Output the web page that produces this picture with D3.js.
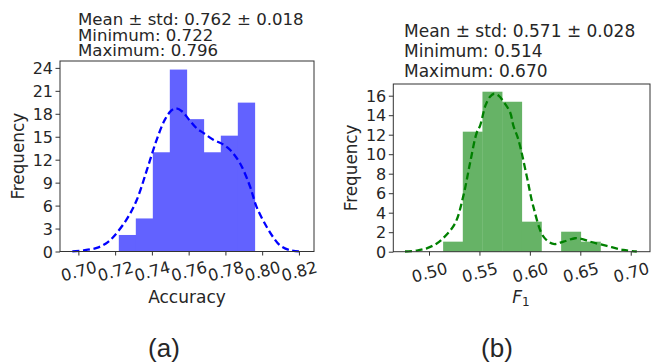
<!DOCTYPE html>
<html>
<head>
<meta charset="utf-8">
<script src="https://cdn.jsdelivr.net/npm/d3@7"></script>
<style>
  html, body { margin: 0; padding: 0; background: #fff; }
  svg { display: block; }
  text { font-family: "DejaVu Sans", sans-serif; fill: #262626; }
</style>
</head>
<body>
<svg id="chart" width="651" height="363"></svg>
<script>
// ---------- Data ----------
// Panel (a): Accuracy
const accBinEdges = [0.722, 0.73125, 0.7405, 0.74975, 0.759, 0.76825, 0.7775, 0.78675, 0.796];
const accDensity  = [2.16, 4.32, 12.97, 23.78, 17.30, 12.97, 15.14, 19.46];
const accKdeX = [0.6967, 0.703, 0.710, 0.715, 0.719, 0.726, 0.7317, 0.7372, 0.7426, 0.747, 0.7505, 0.753, 0.7565, 0.760, 0.7644, 0.768, 0.7734, 0.778, 0.7825, 0.788, 0.7934, 0.797, 0.8025, 0.8065, 0.8097, 0.815, 0.820];
const accKdeY = [0.02, 0.15, 0.47, 1.05, 1.9, 4.1, 6.7, 10.6, 14.6, 17.2, 18.4, 18.7, 18.3, 17.3, 16.1, 15.5, 14.6, 14.1, 13.3, 11.5, 8.5, 5.8, 3.2, 1.7, 0.8, 0.17, 0.02];
const accXTicks = [0.70, 0.72, 0.74, 0.76, 0.78, 0.80, 0.82];
const accYTicks = [0, 3, 6, 9, 12, 15, 18, 21, 24];
const accTitle = ["Mean \u00b1 std: 0.762 \u00b1 0.018", "Minimum: 0.722", "Maximum: 0.796"];

// Panel (b): F1
const f1BinEdges = [0.514, 0.5335, 0.553, 0.5725, 0.592, 0.6115, 0.631, 0.6505, 0.670];
const f1Density  = [1.03, 12.31, 16.41, 15.38, 3.08, 0, 2.05, 1.03];
const f1KdeX = [0.4762, 0.488, 0.4977, 0.507, 0.514, 0.5258, 0.534, 0.5407, 0.5473, 0.5506, 0.556, 0.5605, 0.5645, 0.569, 0.5745, 0.5804, 0.5837, 0.5886, 0.597, 0.6035, 0.6135, 0.6233, 0.6333, 0.6448, 0.652, 0.6597, 0.6763, 0.6927, 0.706];
const f1KdeY = [0.02, 0.12, 0.35, 0.8, 1.38, 2.9, 5.7, 9.1, 12.2, 12.9, 15.0, 15.9, 16.2, 16.0, 15.3, 14.3, 12.9, 11.5, 7.7, 4.6, 1.55, 0.8, 1.03, 1.38, 1.3, 1.03, 0.59, 0.18, 0.02];
const f1XTicks = [0.50, 0.55, 0.60, 0.65, 0.70];
const f1YTicks = [0, 2, 4, 6, 8, 10, 12, 14, 16];
const f1Title = ["Mean \u00b1 std: 0.571 \u00b1 0.028", "Minimum: 0.514", "Maximum: 0.670"];

// ---------- Drawing ----------
const svg = d3.select("#chart");

function panel(cfg) {
  const x = d3.scaleLinear().domain(cfg.xDomain).range([cfg.left, cfg.right]);
  const y = d3.scaleLinear().domain(cfg.yDomain).range([cfg.bottom, cfg.top]);
  const g = svg.append("g");

  // bars
  g.selectAll("rect.bar").data(cfg.density).join("rect")
    .attr("class", "bar")
    .attr("x", (d, i) => x(cfg.edges[i]))
    .attr("width", (d, i) => x(cfg.edges[i + 1]) - x(cfg.edges[i]) + 0.3)
    .attr("y", d => y(d))
    .attr("height", d => y(0) - y(d))
    .attr("fill", cfg.barColor);

  // KDE
  const pts = cfg.kdeX.map((v, i) => [v, cfg.kdeY[i]]);
  g.append("path")
    .datum(pts)
    .attr("d", d3.line().x(d => x(d[0])).y(d => y(d[1])).curve(d3.curveCatmullRom.alpha(0.5)))
    .attr("fill", "none")
    .attr("stroke", cfg.lineColor)
    .attr("stroke-width", 2.3)
    .attr("stroke-dasharray", "7,3.6");

  // frame
  g.append("rect")
    .attr("x", cfg.left).attr("y", cfg.top)
    .attr("width", cfg.right - cfg.left).attr("height", cfg.bottom - cfg.top)
    .attr("fill", "none").attr("stroke", "#333").attr("stroke-width", 1);

  // x axis
  const xAxis = d3.axisBottom(x).tickValues(cfg.xTicks).tickFormat(cfg.xFmt).tickSizeInner(4).tickSizeOuter(0).tickPadding(3);
  const gx = g.append("g").attr("transform", `translate(0,${cfg.bottom})`).call(xAxis);
  gx.select(".domain").remove();
  gx.selectAll(".tick line").attr("stroke", "#333");
  gx.selectAll(".tick text")
    .attr("font-size", 16.3)
    .attr("fill", "#262626")
    .attr("dy", null)
    .attr("y", 0)
    .attr("text-anchor", "middle")
    .attr("dominant-baseline", "central")
    .attr("transform", `translate(0,${cfg.xLabelOffset}) rotate(-15)`);

  // y axis
  const yAxis = d3.axisLeft(y).tickValues(cfg.yTicks).tickFormat(d3.format("d")).tickSizeInner(4.5).tickSizeOuter(0).tickPadding(2.5);
  const gy = g.append("g").attr("transform", `translate(${cfg.left},0)`).call(yAxis);
  gy.select(".domain").remove();
  gy.selectAll(".tick line").attr("stroke", "#333");
  gy.selectAll(".tick text").attr("font-size", 16).attr("fill", "#262626").attr("dy", "0.36em");

  // y label
  g.append("text")
    .attr("transform", `translate(${cfg.yLabelX},${(cfg.top + cfg.bottom) / 2}) rotate(-90)`)
    .attr("text-anchor", "middle")
    .attr("dominant-baseline", "central")
    .attr("font-size", 16.8)
    .text("Frequency");

  // title lines
  cfg.title.forEach((t, i) => {
    g.append("text")
      .attr("x", cfg.titleX)
      .attr("y", cfg.titleY[i])
      .attr("font-size", cfg.titleSize)
      .text(t);
  });

  // subfigure caption
  g.append("text")
    .attr("x", cfg.captionX).attr("y", 356.5)
    .attr("text-anchor", "middle")
    .style("font-family", "'Liberation Sans', Arial, sans-serif")
    .attr("font-size", 26)
    .text(cfg.caption);

  return g;
}

const gA = panel({
  left: 60, right: 314, top: 61, bottom: 251.5,
  xDomain: [0.6900, 0.8282], yDomain: [0, 24.9],
  edges: accBinEdges, density: accDensity,
  kdeX: accKdeX, kdeY: accKdeY,
  barColor: "#6262ff", lineColor: "#0000ff",
  xTicks: accXTicks, yTicks: accYTicks, xFmt: d3.format(".2f"),
  xLabelOffset: 20,
  yLabelX: 18,
  title: accTitle, titleX: 78, titleY: [25, 40.7, 56], titleSize: 16.6,
  caption: "(a)", captionX: 164
});
gA.append("text")
  .attr("x", 187).attr("y", 303)
  .attr("text-anchor", "middle")
  .attr("font-size", 17)
  .text("Accuracy");

const gB = panel({
  left: 393.3, right: 650, top: 84, bottom: 251.7,
  xDomain: [0.4646, 0.7191], yDomain: [0, 17.2],
  edges: f1BinEdges, density: f1Density,
  kdeX: f1KdeX, kdeY: f1KdeY,
  barColor: "#66b366", lineColor: "#008000",
  xTicks: f1XTicks, yTicks: f1YTicks, xFmt: d3.format(".2f"),
  xLabelOffset: 21,
  yLabelX: 350.7,
  title: f1Title, titleX: 404, titleY: [37, 57, 77], titleSize: 17,
  caption: "(b)", captionX: 497
});
const f1Label = gB.append("text")
  .attr("x", 521).attr("y", 303)
  .attr("text-anchor", "middle")
  .attr("font-size", 17);
f1Label.append("tspan").attr("font-style", "italic").text("F");
f1Label.append("tspan").attr("font-size", 12).attr("dy", 3).text("1");
</script>
</body>
</html>
